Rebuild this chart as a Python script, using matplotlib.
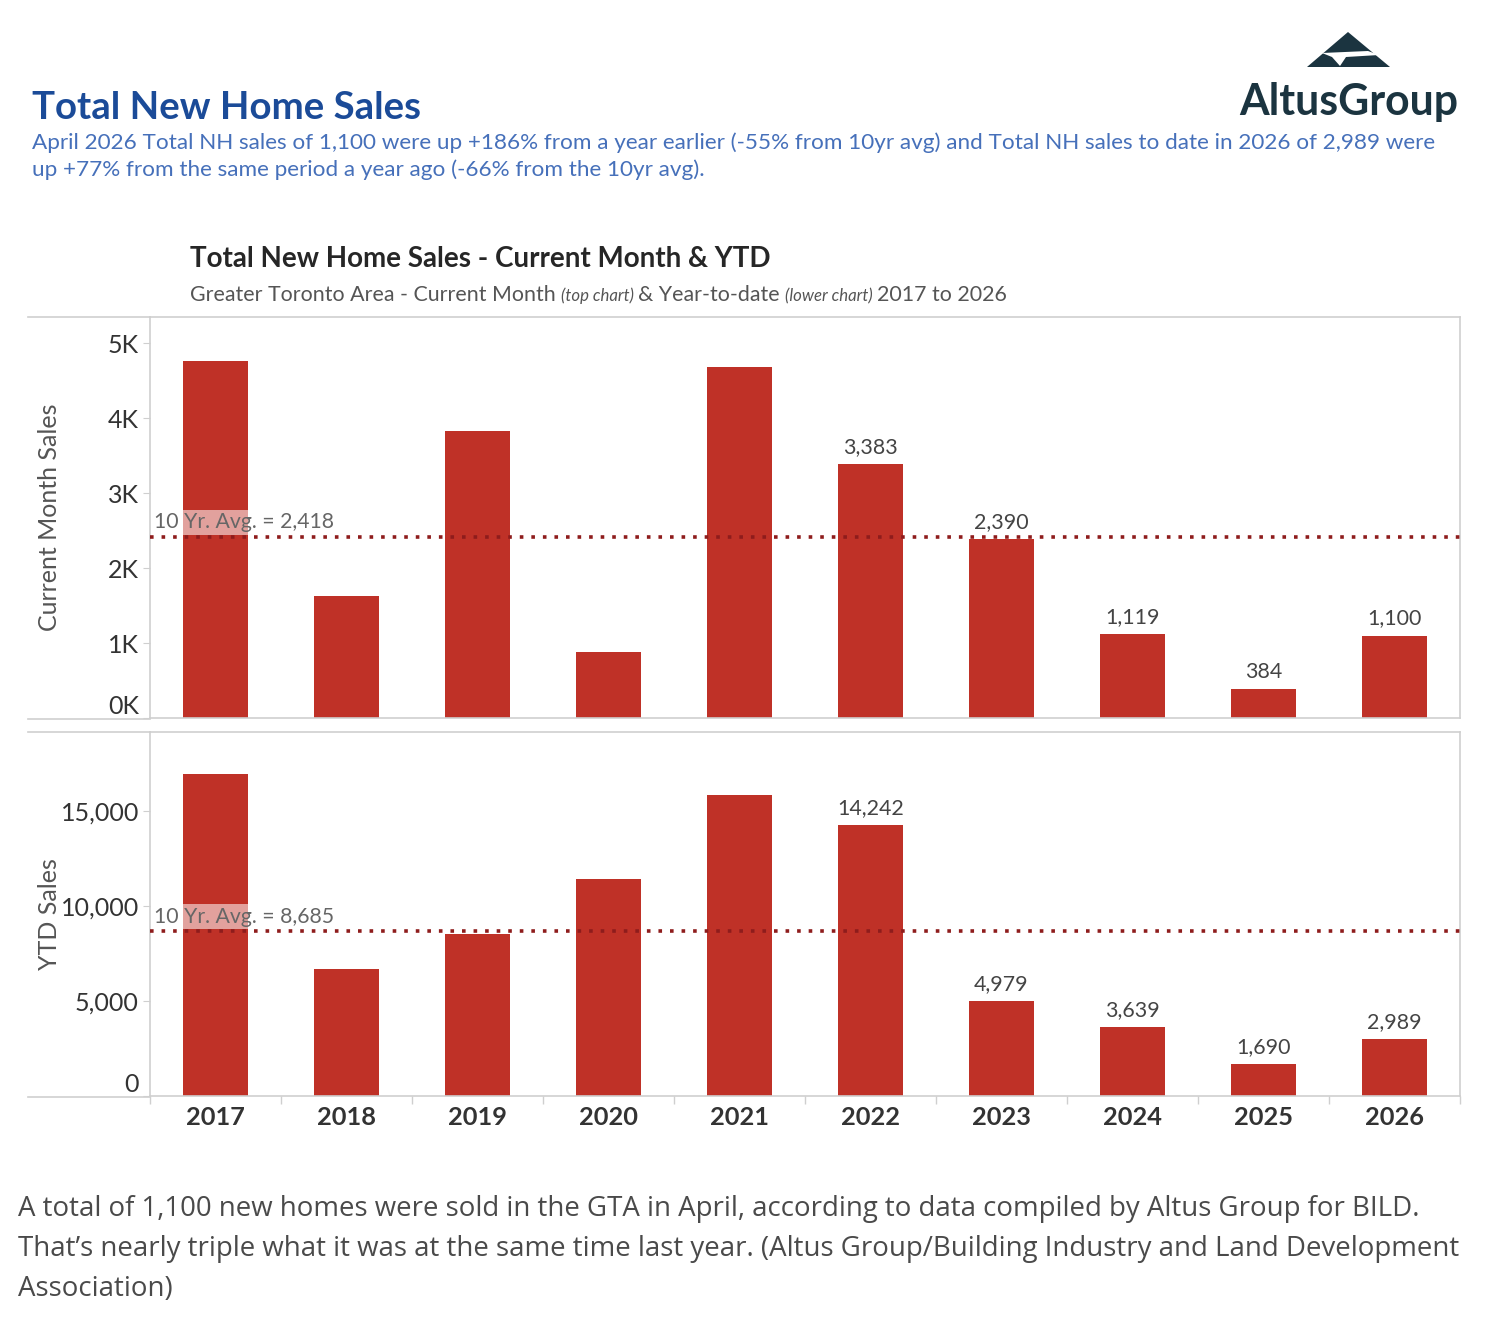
import matplotlib
matplotlib.use('Agg')
from matplotlib import pyplot as plt
from matplotlib.lines import Line2D
from matplotlib.patches import Polygon

# Data.
years = ['2017', '2018', '2019', '2020', '2021', '2022', '2023', '2024', '2025', '2026']
monthSales = [4760, 1627, 3827, 880, 4680, 3383, 2390, 1119, 384, 1100]
ytdSales = [16950, 6684, 8526, 11421, 15842, 14242, 4979, 3639, 1690, 2989]
monthAvg = 2418
ytdAvg = 8685
labelledYears = ['2022', '2023', '2024', '2025', '2026']
monthTicks = [0, 1000, 2000, 3000, 4000, 5000]
monthTickLabels = ['0K', '1K', '2K', '3K', '4K', '5K']
ytdTicks = [0, 5000, 10000, 15000]
ytdTickLabels = ['0', '5,000', '10,000', '15,000']

W, H = 1490, 1332
barColor = '#bf3127'
avgColor = '#8e1c1c'
gridGray = '#cfcfcf'
plt.rcParams['font.family'] = ['Lato', 'DejaVu Sans']


def fx(x):
  return x / W


def fy(y):
  return 1 - y / H


fig = plt.figure(figsize=(W / 100, H / 100), dpi=100)

# Header text.
fig.text(fx(32), fy(119), 'Total New Home Sales', fontsize=27.6, fontweight='bold',
         color='#1b4b98', va='baseline')
fig.text(fx(32), fy(149), 'April 2026 Total NH sales of 1,100 were up +186% from a year earlier '
         '(-55% from 10yr avg) and Total NH sales to date in 2026 of 2,989 were',
         fontsize=16.2, color='#4670ba', va='baseline')
fig.text(fx(32), fy(176), 'up +77% from the same period a year ago (-66% from the 10yr avg).',
         fontsize=16.2, color='#4670ba', va='baseline')

# Logo.
fig.add_artist(Polygon([(fx(1307), fy(67)), (fx(1348), fy(32)), (fx(1390), fy(67))],
                       closed=True, transform=fig.transFigure, facecolor='#1b3440',
                       edgecolor='none'))
fig.add_artist(Polygon([(fx(1322), fy(53)), (fx(1368), fy(51)), (fx(1379), fy(55)),
                        (fx(1346), fy(57)), (fx(1340), fy(66)), (fx(1332), fy(57))],
                       closed=True, transform=fig.transFigure, facecolor='white',
                       edgecolor='none'))
fig.text(fx(1458), fy(115), 'AltusGroup', fontsize=30.8, fontweight='bold', color='#1b3440',
         ha='right', va='baseline')

# Chart title and subtitle.
fig.text(fx(190), fy(267), 'Total New Home Sales - Current Month & YTD', fontsize=20,
         fontweight='bold', color='#262626', va='baseline')

pieces = [
  ('Greater Toronto Area - Current Month ', 15.4, 'normal'),
  ('(top chart) ', 12.1, 'italic'),
  ('& Year-to-date ', 15.4, 'normal'),
  ('(lower chart) ', 12.1, 'italic'),
  ('2017 to 2026', 15.4, 'normal'),
]
renderer = fig.canvas.get_renderer()
xPos = 190
for text, size, style in pieces:
  t = fig.text(fx(xPos), fy(301), text, fontsize=size, style=style, color='#555555',
               va='baseline')
  xPos += t.get_window_extent(renderer).width

# Axes.
left = 150
right = 1460
axTop = fig.add_axes([fx(left), fy(718), (right - left) / W, 401 / H])
axBot = fig.add_axes([fx(left), fy(1096), (right - left) / W, 364 / H])

x = list(range(len(years)))
panels = [
  (axTop, monthSales, monthAvg, 5347, monthTicks, monthTickLabels, 'Current Month Sales'),
  (axBot, ytdSales, ytdAvg, 19158, ytdTicks, ytdTickLabels, 'YTD Sales'),
]
for ax, values, avg, ymax, ticks, tickLabels, ylabel in panels:
  ax.bar(x, values, width=0.5, color=barColor, zorder=2)
  ax.set_xlim(-0.5, len(years) - 0.5)
  ax.set_ylim(0, ymax)
  ax.axhline(avg, color=avgColor, linestyle=(0, (1, 2.2)), linewidth=2.6, zorder=3)
  ax.annotate('10 Yr. Avg. = {:,}'.format(avg), xy=(-0.47, avg), xytext=(0, 3),
              textcoords='offset points', fontsize=15.3, color='#666666', va='bottom',
              ha='left', zorder=4,
              bbox=dict(boxstyle='square,pad=0.12', facecolor='white', edgecolor='none',
                        alpha=0.55))
  for i, year in enumerate(years):
    if year in labelledYears:
      ax.annotate('{:,}'.format(values[i]), xy=(i, values[i]), xytext=(0, 5),
                  textcoords='offset points', ha='center', va='bottom', fontsize=15.4,
                  color='#444444')

  ax.set_yticks(ticks)
  ax.set_yticklabels(tickLabels, fontsize=18, color='#333333')
  ax.get_yticklabels()[0].set_va('bottom')
  ax.tick_params(axis='y', length=5, width=0.8, color=gridGray, pad=3)
  ax.set_ylabel(ylabel, fontsize=18, color='#555555')
  ax.yaxis.set_label_coords(-0.068, 0.5)

  for side in ['left', 'right', 'top', 'bottom']:
    ax.spines[side].set_color(gridGray)
    ax.spines[side].set_linewidth(1.2)

axTop.set_xticks([])
axBot.set_xticks(x)
axBot.set_xticklabels(years, fontsize=18.3, fontweight='bold', color='#333333')
axBot.set_xticks([i - 0.5 for i in range(len(years) + 1)], minor=True)
axBot.tick_params(axis='x', which='major', length=0, pad=7)
axBot.tick_params(axis='x', which='minor', length=6, width=1, color=gridGray)

# Pane borders run out to the header column.
for yLine in [317, 719, 732, 1097]:
  fig.add_artist(Line2D([fx(28), fx(left)], [fy(yLine), fy(yLine)], color=gridGray,
                        linewidth=1.2, transform=fig.transFigure))

# Caption.
captionLines = [
  'A total of 1,100 new homes were sold in the GTA in April, according to data compiled by Altus Group for BILD.',
  'That\u2019s nearly triple what it was at the same time last year. (Altus Group/Building Industry and Land Development',
  'Association)',
]
for i, line in enumerate(captionLines):
  fig.text(fx(18), fy(1216 + 40 * i), line, fontsize=19.9, color='#4a4a4a', va='baseline',
           family=['Open Sans', 'DejaVu Sans'])

fig.savefig('out.png', dpi=100)
